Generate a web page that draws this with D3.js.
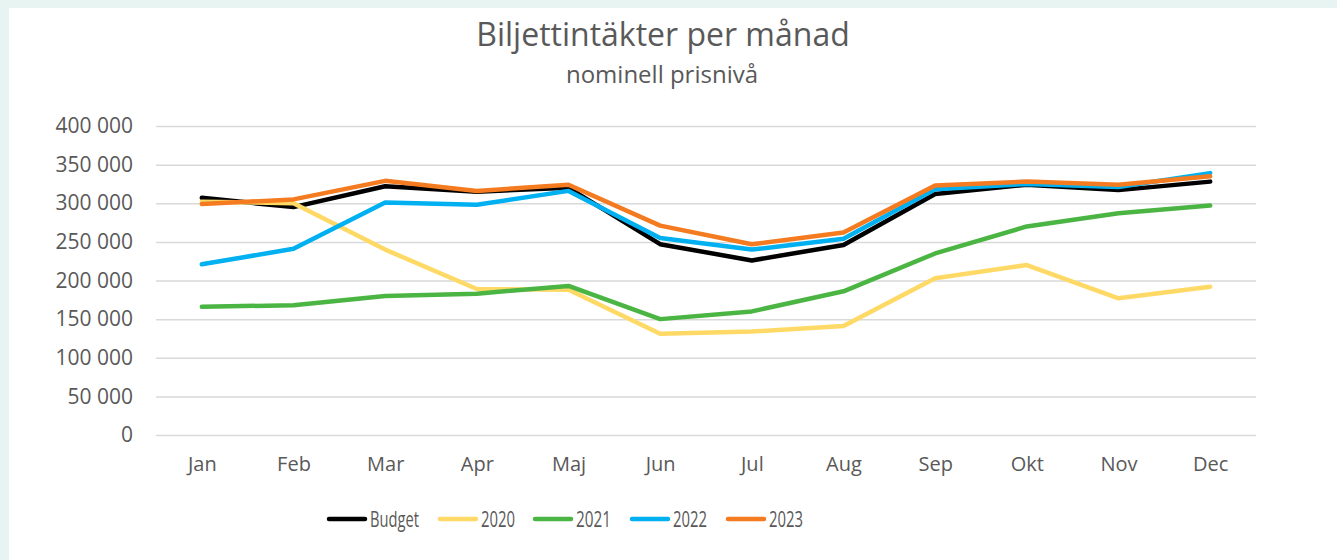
<!DOCTYPE html>
<html>
<head>
<meta charset="utf-8">
<script src="https://cdn.jsdelivr.net/npm/d3@7"></script>
<style>
  html, body { margin: 0; padding: 0; background: #e7f4f1; }
  svg { display: block; font-family: "Open Sans", sans-serif; }
</style>
</head>
<body>
<svg id="chart" width="1337" height="560"></svg>
<script>
// månadsdata
var months = ["Jan", "Feb", "Mar", "Apr", "Maj", "Jun", "Jul", "Aug", "Sep", "Okt", "Nov", "Dec"];
var budget = [307000, 295000, 322000, 315000, 320000, 247000, 226000, 246000, 312000, 324000, 317000, 328000];
var y2020 = [302000, 300000, 240000, 189000, 188000, 131000, 134000, 141000, 203000, 220000, 177000, 192000];
var y2021 = [166000, 168000, 180000, 183000, 193000, 150000, 160000, 186000, 235000, 270000, 287000, 297000];
var y2022 = [221000, 241000, 301000, 298000, 316000, 255000, 240000, 254000, 318000, 325000, 321000, 339000];
var y2023 = [299000, 305000, 329000, 316000, 324000, 271000, 247000, 262000, 323000, 328000, 324000, 335000];
var yTicks = [0, 50000, 100000, 150000, 200000, 250000, 300000, 350000, 400000];
var seriesNames = ["Budget", "2020", "2021", "2022", "2023"];
var seriesColors = ["#000000", "#ffd966", "#4bb543", "#00b0f0", "#f47b20"];

var svg = d3.select("#chart"),
    textColor = "#595959",
    plot = { left: 156, right: 1256, top: 126, bottom: 435 };

// vit panel
svg.append("rect").attr("x", 9).attr("y", 8).attr("width", 1337).attr("height", 560).attr("fill", "#ffffff");

svg.append("text")
    .attr("x", 663).attr("y", 46)
    .attr("text-anchor", "middle")
    .attr("font-size", 32).attr("fill", textColor)
    .text("Biljettintäkter per månad");
svg.append("text")
    .attr("x", 662).attr("y", 83)
    .attr("text-anchor", "middle")
    .attr("font-size", 24).attr("fill", textColor)
    .text("nominell prisnivå");

var x = d3.scalePoint().domain(months).range([plot.left, plot.right]).padding(0.5);
var y = d3.scaleLinear().domain([0, 400000]).range([plot.bottom, plot.top]);

var fmt = v => d3.format(",")(v).replace(/,/g, " ");

var yAxis = d3.axisLeft(y)
    .tickValues(yTicks)
    .tickFormat(fmt)
    .tickSize(-(plot.right - plot.left))
    .tickPadding(23);

var gy = svg.append("g").attr("transform", "translate(" + plot.left + ",0)").call(yAxis);
gy.select(".domain").remove();
gy.selectAll("line").attr("stroke", "#d9d9d9").attr("stroke-width", 1.5);
gy.selectAll("text").attr("fill", textColor).attr("font-size", 21).attr("font-family", "Open Sans");

var gx = svg.append("g").attr("transform", "translate(0," + plot.bottom + ")")
    .call(d3.axisBottom(x).tickSize(0).tickPadding(22));
gx.select(".domain").remove();
gx.selectAll("text").attr("fill", textColor).attr("font-size", 20).attr("font-family", "Open Sans");

var line = d3.line()
    .x((d, i) => x(months[i]))
    .y(d => y(d));

[budget, y2020, y2021, y2022, y2023].forEach((s, i) => {
    svg.append("path")
        .datum(s)
        .attr("fill", "none")
        .attr("stroke", seriesColors[i])
        .attr("stroke-width", 4.5)
        .attr("stroke-linejoin", "round")
        .attr("stroke-linecap", "round")
        .attr("d", line);
});

// legend
var legendX = [327, 438, 533, 630, 726],
    legendW = [49, 34, 35, 34, 34];
var lg = svg.append("g").attr("transform", "translate(0,519)");
seriesNames.forEach((n, i) => {
    lg.append("line")
        .attr("x1", legendX[i] + 2).attr("x2", legendX[i] + 38)
        .attr("y1", 0).attr("y2", 0)
        .attr("stroke", seriesColors[i]).attr("stroke-width", 4.5)
        .attr("stroke-linecap", "round");
    lg.append("text")
        .attr("x", legendX[i] + 43).attr("y", 8)
        .attr("font-size", 21).attr("fill", textColor)
        .attr("textLength", legendW[i]).attr("lengthAdjust", "spacingAndGlyphs")
        .text(n);
});
</script>
</body>
</html>
